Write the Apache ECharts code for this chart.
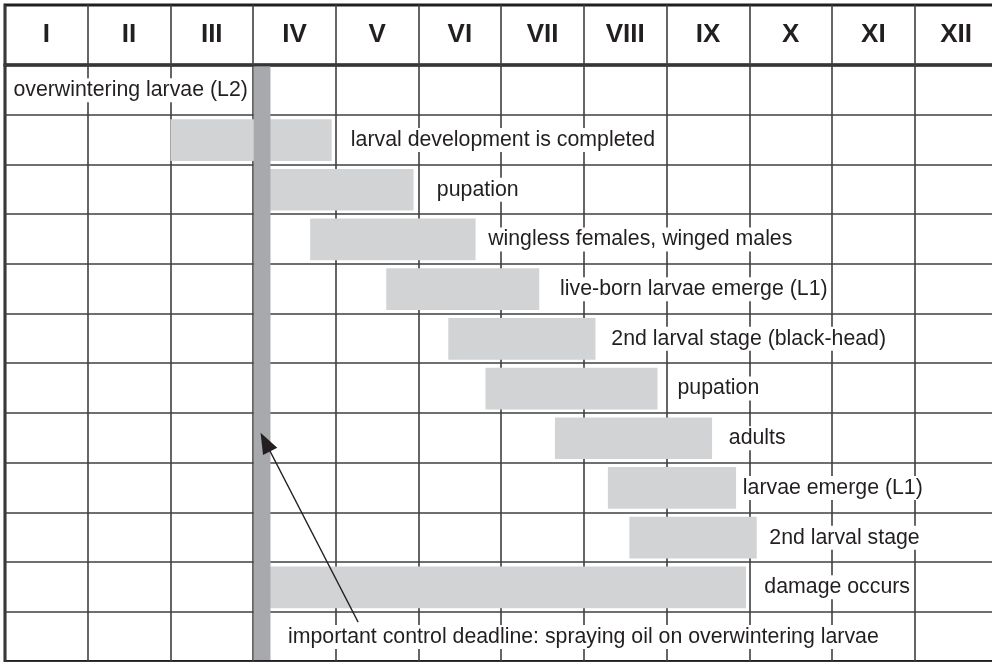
<!DOCTYPE html>
<html><head><meta charset="utf-8">
<script src="https://cdn.jsdelivr.net/npm/echarts@6/dist/echarts.min.js"></script>
<style>html,body{margin:0;padding:0;background:#fff}#c{width:992px;height:662px}</style>
</head><body><div id="c"></div>
<script>
// ---- data ----
const months = ['I','II','III','IV','V','VI','VII','VIII','IX','X','XI','XII'];
const stages = [
  'overwintering larvae (L2)',
  'larval development is completed',
  'pupation',
  'wingless females, winged males',
  'live-born larvae emerge (L1)',
  '2nd larval stage (black-head)',
  'pupation',
  'adults',
  'larvae emerge (L1)',
  '2nd larval stage',
  'damage occurs',
  'important control deadline: spraying oil on overwintering larvae'
];
// period of each stage, in months from 1 January (null = no bar)
const barStart = [null, 2.00, 3.20, 3.69, 4.61, 5.36, 5.81, 6.65, 7.29, 7.55, 3.20, null];
const barEnd   = [null, 3.95, 4.94, 5.69, 6.46, 7.14, 7.89, 8.55, 8.84, 9.09, 8.96, null];
// where each stage label begins, in months
const labelStart = [0.09, 4.17, 5.21, 5.83, 6.70, 7.32, 8.12, 8.74, 8.91, 9.23, 9.17, 3.41];
// spraying window (months) and the arrow pointing to it [month, row]
const controlWindow = [3.00, 3.21];
const arrowFrom = [4.27, 11.21];
const arrowTo = [3.09, 7.40];

// ---- chart ----
const COLW = 82.7, ROWH = 49.7;
const chart = echarts.init(document.getElementById('c'), null, {renderer: 'canvas'});
const gridLine = {show: true, lineStyle: {color: '#3f3f3f', width: 1.6}};
const font = '21.3px "Liberation Sans", Arial, sans-serif';

const barData = [];
stages.forEach((s, i) => { if (barStart[i] != null) barData.push([barStart[i], barEnd[i], i]); });
const labelData = stages.map((s, i) => [labelStart[i], i, s]);

chart.setOption({
  animation: false,
  backgroundColor: '#fff',
  grid: [
    {left: 5, top: 5, width: COLW * 12, height: 60, show: true, borderColor: '#231f20', borderWidth: 3,
     backgroundColor: 'transparent', outerBoundsMode: 'none', containLabel: false},
    {left: 5, top: 65, width: COLW * 12, height: ROWH * 12, show: true, borderColor: '#231f20', borderWidth: 3,
     backgroundColor: 'transparent', outerBoundsMode: 'none', containLabel: false}
  ],
  xAxis: [
    {gridIndex: 0, type: 'category', data: months, boundaryGap: true, position: 'bottom',
     axisLine: {show: false}, axisTick: {show: false},
     splitLine: {show: true, interval: 0, lineStyle: {color: '#3f3f3f', width: 1.6}},
     axisLabel: {inside: true, margin: 30, interval: 0, verticalAlign: 'middle', color: '#231f20',
       fontSize: 26, fontWeight: 'bold', fontFamily: '"Liberation Sans", Arial, sans-serif'}},
    {gridIndex: 1, type: 'value', min: 0, max: 12, interval: 1,
     axisLine: {show: false}, axisTick: {show: false}, axisLabel: {show: false},
     splitLine: gridLine}
  ],
  yAxis: [
    {gridIndex: 0, type: 'value', min: 0, max: 1, show: false, splitLine: {show: false}},
    {gridIndex: 1, type: 'value', min: 0, max: 12, interval: 1, inverse: true,
     axisLine: {show: false}, axisTick: {show: false}, axisLabel: {show: false},
     splitLine: gridLine}
  ],
  series: [
    {type: 'custom', xAxisIndex: 1, yAxisIndex: 1, z: 2, data: barData,
     renderItem: (params, api) => {
       const p0 = api.coord([api.value(0), api.value(2)]);
       const p1 = api.coord([api.value(1), api.value(2) + 1]);
       return {type: 'rect', shape: {x: p0[0], y: p0[1] + 4.5, width: p1[0] - p0[0], height: p1[1] - p0[1] - 8},
         style: {fill: '#d1d3d4'}};
     }},
    {type: 'custom', xAxisIndex: 1, yAxisIndex: 1, z: 3, data: labelData,
     renderItem: (params, api) => {
       const i = params.dataIndex;
       const p = api.coord([labelData[i][0], labelData[i][1] + 0.5]);
       return {type: 'text', x: p[0], y: p[1] + 0.5,
         style: {text: labelData[i][2], fill: '#231f20', font: font, align: 'left', verticalAlign: 'middle',
           backgroundColor: '#fff', padding: [1, 1], lineHeight: 22}};
     }},
    {type: 'custom', xAxisIndex: 1, yAxisIndex: 1, z: 4, data: [[controlWindow[0], controlWindow[1]]],
     renderItem: (params, api) => {
       const p0 = api.coord([api.value(0), 0]);
       const p1 = api.coord([api.value(1), 12]);
       return {type: 'rect', shape: {x: p0[0] + 0.6, y: p0[1] + 1.5, width: p1[0] - p0[0] - 0.6, height: p1[1] - p0[1] - 3},
         style: {fill: '#a7a9ac'}};
     }},
    {type: 'custom', xAxisIndex: 1, yAxisIndex: 1, z: 5, data: [[arrowFrom[0], arrowFrom[1], arrowTo[0], arrowTo[1]]],
     renderItem: (params, api) => {
       const a = api.coord([api.value(0), api.value(1)]);
       const b = api.coord([api.value(2), api.value(3)]);
       const dx = b[0] - a[0], dy = b[1] - a[1];
       const L = Math.sqrt(dx * dx + dy * dy);
       const ux = dx / L, uy = dy / L;
       const hl = 21, hw = 8;
       const bx = b[0] - ux * hl, by = b[1] - uy * hl;
       return {type: 'group', children: [
         {type: 'line', shape: {x1: a[0], y1: a[1], x2: bx + ux * 2, y2: by + uy * 2}, style: {stroke: '#231f20', lineWidth: 1.3}},
         {type: 'polygon', shape: {points: [[b[0], b[1]], [bx - uy * hw, by + ux * hw], [bx + uy * hw, by - ux * hw]]},
          style: {fill: '#231f20'}}
       ]};
     }}
  ]
});
</script>
</body></html>
